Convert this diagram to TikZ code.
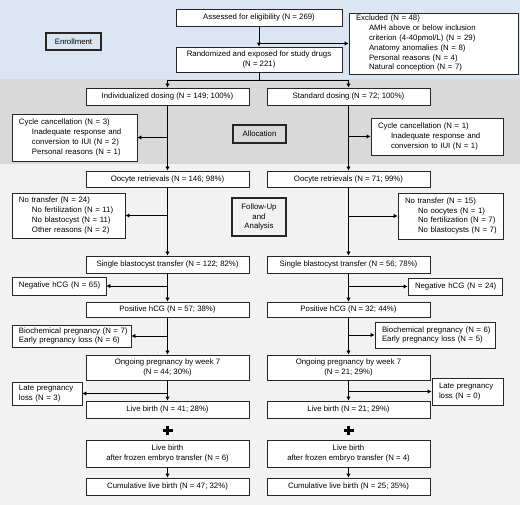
\documentclass[tikz,border=0pt]{standalone}
\usepackage{fontspec}
\setmainfont{Liberation Sans}
\usetikzlibrary{arrows.meta}
\definecolor{bandA}{HTML}{DCE6F2}
\definecolor{bandB}{HTML}{D9D9D9}
\definecolor{bandC}{HTML}{F2F2F2}
\newcommand\ind{\hspace*{13pt}}
\newcommand\bx[7]{%
  \pgfmathsetmacro\bxw{#4-#2}\pgfmathsetmacro\bxh{#5-#3}%
  \pgfmathsetmacro\bxcx{(#2+#4)/2}\pgfmathsetmacro\bxcy{(#3+#5)/2}%
  \pgfmathsetmacro\bxtw{#4-#2-14}%
  \node[box,minimum width=\bxw pt,minimum height=\bxh pt,#6] (#1) at (\bxcx,\bxcy) {#7};}
\newcommand\lines[1]{\begin{tabular}{@{}l@{}}#1\end{tabular}}
\tikzset{
  box/.style={draw=black!85, line width=0.8pt, fill=white, inner sep=0pt,
    font=\fontsize{7.8}{9.8}\selectfont, align=center},
  lbox/.style={align=left, text width=\bxtw pt, inner xsep=7pt},
  thick box/.style={line width=1.8pt},
  ln/.style={line width=0.8pt, draw=black},
  arr/.style={ln, -{Latex[length=4pt,width=4.5pt]}},
  plusmark/.style={line width=3.2pt, draw=black},
}
\begin{document}
\begin{tikzpicture}[x=1pt,y=-1pt]
\useasboundingbox (0,0) rectangle (520,505);
\fill[bandA] (0,0) rectangle (520,79);
\fill[bandB] (0,79) rectangle (520,164);
\fill[bandC] (0,164) rectangle (520,505);

% enrollment
\bx{enr}{46}{33}{101}{50}{thick box, fill=bandA}{Enrollment}
\bx{ass}{176}{9}{342}{26}{}{Assessed for eligibility (N = 269)}
\bx{rand}{176}{47}{342}{72}{}{Randomized and exposed for study drugs\\(N = 221)}
\bx{exc}{349}{13}{518}{74}{lbox}{\lines{Excluded (N = 48)\\
  \ind AMH above or below inclusion\\
  \ind criterion (4-40pmol/L) (N = 29)\\
  \ind Anatomy anomalies (N = 8)\\
  \ind Personal reasons (N = 4)\\
  \ind Natural conception (N = 7)}}

% allocation
\bx{ind}{86}{88}{249}{105}{}{Individualized dosing (N = 149; 100\%)}
\bx{std}{267}{88}{430}{105}{}{Standard dosing (N = 72; 100\%)}
\bx{cc1}{12}{114}{137}{161}{lbox}{\lines{Cycle cancellation (N = 3)\\
  \ind Inadequate response and\\
  \ind conversion to IUI (N = 2)\\
  \ind Personal reasons (N = 1)}}
\bx{alloc}{233}{125}{286}{143}{thick box, fill=bandB}{Allocation}
\bx{cc2}{371}{118}{503}{155}{lbox}{\lines{Cycle cancellation (N = 1)\\
  \ind Inadequate response and\\
  \ind conversion to IUI (N = 1)}}

% follow-up
\bx{ooc1}{86}{171}{249}{187}{}{Oocyte retrievals (N = 146; 98\%)}
\bx{ooc2}{267}{171}{430}{187}{}{Oocyte retrievals (N = 71; 99\%)}
\bx{nt1}{12}{193}{125}{238}{lbox}{\lines{No transfer (N = 24)\\
  \ind No fertilization (N = 11)\\
  \ind No blastocyst (N = 11)\\
  \ind Other reasons (N = 2)}}
\bx{fu}{232}{198}{286}{236}{thick box, fill=bandC}{Follow-Up\\and\\Analysis}
\bx{nt2}{398}{193}{503}{239}{lbox}{\lines{No transfer (N = 15)\\
  \ind No oocytes (N = 1)\\
  \ind No fertilization (N = 7)\\
  \ind No blastocysts (N = 7)}}

\bx{sbt1}{86}{256}{249}{273}{}{Single blastocyst transfer (N = 122; 82\%)}
\bx{sbt2}{267}{256}{430}{273}{}{Single blastocyst transfer (N = 56; 78\%)}
\bx{neg1}{12}{277}{106}{295}{lbox}{\lines{Negative hCG (N = 65)}}
\bx{neg2}{408}{278}{502}{295}{lbox}{\lines{Negative hCG (N = 24)}}

\bx{pos1}{86}{302}{249}{317}{}{Positive hCG (N = 57; 38\%)}
\bx{pos2}{267}{302}{430}{317}{}{Positive hCG (N = 32; 44\%)}
\bx{bio1}{12}{325}{131}{347}{lbox}{\lines{Biochemical pregnancy (N = 7)\\Early pregnancy loss (N = 6)}}
\bx{bio2}{375}{322}{495}{348}{lbox}{\lines{Biochemical pregnancy (N = 6)\\Early pregnancy loss (N = 5)}}

\bx{ong1}{86}{355}{249}{380}{}{Ongoing pregnancy by week 7\\(N = 44; 30\%)}
\bx{ong2}{267}{355}{430}{380}{}{Ongoing pregnancy by week 7\\(N = 21; 29\%)}
\bx{late1}{12}{382}{82}{405}{lbox}{\lines{Late pregnancy\\loss (N = 3)}}
\bx{late2}{432}{378}{503}{405}{lbox}{\lines{Late pregnancy\\loss (N = 0)}}

\bx{lb1}{86}{401}{249}{418}{}{Live birth (N = 41; 28\%)}
\bx{lb2}{267}{401}{430}{418}{}{Live birth (N = 21; 29\%)}
\bx{fr1}{86}{440}{249}{467}{}{Live birth\\after frozen embryo transfer (N = 6)}
\bx{fr2}{267}{440}{430}{467}{}{Live birth\\after frozen embryo transfer (N = 4)}
\bx{cum1}{86}{478}{249}{495}{}{Cumulative live birth (N = 47; 32\%)}
\bx{cum2}{267}{478}{430}{495}{}{Cumulative live birth (N = 25; 35\%)}

% connectors
\draw[arr] (ass) -- (rand);
\draw[arr] (ass.south |- exc.west) -- (exc.west);
\coordinate (split) at (259,80);
\draw[ln] (rand.south) -- (split);
\draw[arr] (split) -| (ind.north);
\draw[arr] (split) -| (std.north);

\draw[arr] (ind) -- (ooc1);
\draw[arr] (ind.south |- cc1.east) -- (cc1.east);
\draw[arr] (std) -- (ooc2);
\draw[arr] (std.south |- cc2.west) -- (cc2.west);

\draw[arr] (ooc1) -- (sbt1);
\draw[arr] (ooc1.south |- nt1.east) -- (nt1.east);
\draw[arr] (ooc2) -- (sbt2);
\draw[arr] (ooc2.south |- nt2.west) -- (nt2.west);

\draw[arr] (sbt1) -- (pos1);
\draw[arr] (sbt1.south |- neg1.east) -- (neg1.east);
\draw[arr] (sbt2) -- (pos2);
\draw[arr] (sbt2.south |- neg2.west) -- (neg2.west);

\draw[arr] (pos1) -- (ong1);
\draw[arr] (pos1.south |- bio1.east) -- (bio1.east);
\draw[arr] (pos2) -- (ong2);
\draw[arr] (pos2.south |- bio2.west) -- (bio2.west);

\draw[arr] (ong1) -- (lb1);
\draw[arr] (ong1.south |- late1.east) -- (late1.east);
\draw[arr] (ong2) -- (lb2);
\draw[arr] (ong2.south |- late2.west) -- (late2.west);

\draw[arr] (fr1) -- (cum1);
\draw[arr] (fr2) -- (cum2);

% plus signs
\coordinate (pl1) at (167.7,430.8);
\coordinate (pl2) at (348.5,430.8);
\foreach \p in {pl1,pl2}{
  \draw[plusmark] ([xshift=-5pt]\p) -- ([xshift=5pt]\p);
  \draw[plusmark] ([yshift=-4.5pt]\p) -- ([yshift=4.5pt]\p);
}
\end{tikzpicture}
\end{document}
